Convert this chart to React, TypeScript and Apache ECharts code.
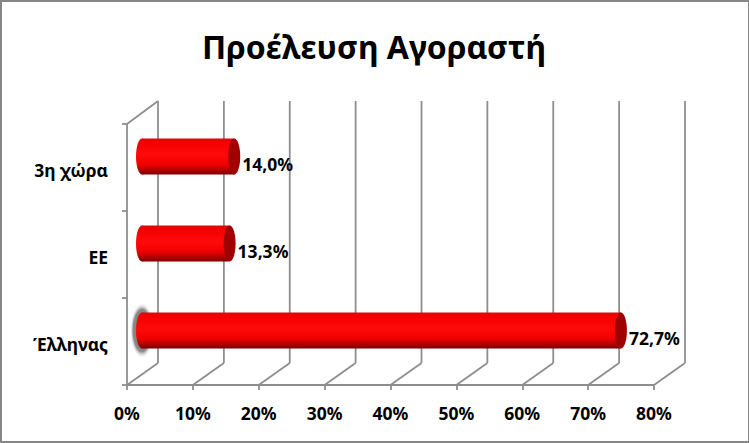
import React, { useEffect, useRef } from "react";
import * as echarts from "echarts";

const categories = ["Έλληνας", "ΕΕ", "3η χώρα"];
const shares = [72.7, 13.3, 14.0];
const gridTicks = [0, 10, 20, 30, 40, 50, 60, 70, 80];
const title = "Προέλευση Αγοραστή";
const FONT = "'Noto Sans', sans-serif";
const LINE = "#8e8e8e";
const DX = 31;
const DY = 22;

function wallItem(params: any, api: any) {
  const v = api.value(0);
  const band = api.size([0, 1])[1];
  const [x, yFirst] = api.coord([v, 0]);
  const [, yLast] = api.coord([v, 2]);
  const yBottom = yFirst + band / 2;
  const yTop = yLast - band / 2;
  const style = { stroke: LINE, lineWidth: 1.8, fill: "none" };
  const children: any[] = [
    { type: "line", shape: { x1: x, y1: yBottom, x2: x + DX, y2: yBottom - DY }, style },
    { type: "line", shape: { x1: x + DX, y1: yBottom - DY, x2: x + DX, y2: yTop - DY - 1 }, style },
  ];
  if (v === 0) {
    children.push({ type: "line", shape: { x1: x, y1: yTop, x2: x + DX, y2: yTop - DY - 1 }, style });
  }
  return { type: "group", children };
}

function barItem(params: any, api: any) {
  const value = api.value(0);
  const cat = api.value(1);
  const [x0, yc0] = api.coord([0, cat]);
  const [x1] = api.coord([value, cat]);
  const ox = 15;
  const oy = 11;
  const h = 36;
  const cy = yc0 - oy;
  const rx = 6;
  const left = x0 + ox;
  const right = x1 + ox;
  const grad = new echarts.graphic.LinearGradient(0, 0, 0, 1, [
    { offset: 0, color: "#dc0a0a" },
    { offset: 0.1, color: "#f20000" },
    { offset: 0.45, color: "#ff0a0a" },
    { offset: 0.72, color: "#ef0000" },
    { offset: 0.9, color: "#a80000" },
    { offset: 1, color: "#7a0000" },
  ]);
  const children: any[] = [];
  if (params.dataIndex === 0) {
    children.push({
      type: "ellipse",
      shape: { cx: left, cy, rx: 12, ry: h / 2 + 10 },
      style: {
        fill: new echarts.graphic.RadialGradient(0.5, 0.5, 0.5, [
          { offset: 0, color: "#707070" },
          { offset: 0.75, color: "#8a8a8a" },
          { offset: 1, color: "rgba(255,255,255,0)" },
        ]),
      },
    });
  }
  children.push(
    { type: "ellipse", shape: { cx: left, cy, rx, ry: h / 2 }, style: { fill: grad } },
    { type: "rect", shape: { x: left, y: cy - h / 2, width: right - left, height: h }, style: { fill: grad } },
    { type: "ellipse", shape: { cx: right, cy, rx, ry: h / 2 }, style: { fill: "#a00000" } },
    {
      type: "text",
      style: {
        x: right + rx + 2,
        y: cy + 7,
        text: value.toFixed(1).replace(".", ",") + "%",
        font: `bold 17.5px ${FONT}`,
        fill: "#000",
        verticalAlign: "middle",
        align: "left",
      },
    }
  );
  return { type: "group", children };
}

export default function App() {
  const ref = useRef<HTMLDivElement>(null);
  useEffect(() => {
    document.body.style.margin = "0";
    const chart = echarts.init(ref.current!, undefined, { renderer: "svg" });
    chart.setOption({
      animation: false,
      title: {
        text: title,
        left: 369,
        top: 25,
        textAlign: "center",
        textStyle: { fontFamily: FONT, fontWeight: "bold", fontSize: 32, color: "#000" },
      },
      grid: { left: 127, top: 124, width: 527, height: 261, containLabel: false },
      xAxis: {
        type: "value",
        min: 0,
        max: 80,
        interval: 10,
        splitLine: { show: false },
        axisLine: { show: true, lineStyle: { color: LINE, width: 1.8 } },
        axisTick: { show: true, length: 5, lineStyle: { color: LINE, width: 1.8 } },
        axisLabel: {
          formatter: "{value}%",
          margin: 19,
          fontFamily: FONT,
          fontWeight: "bold",
          fontSize: 17.5,
          color: "#000",
        },
      },
      yAxis: {
        type: "category",
        data: categories,
        axisLine: { show: true, lineStyle: { color: LINE, width: 1.8 } },
        axisTick: { show: true, length: 5, lineStyle: { color: LINE, width: 1.8 } },
        axisLabel: {
          margin: 19,
          formatter: (name: string) => `{a|${name}}`,
          rich: {
            a: {
              fontFamily: FONT,
              fontWeight: "bold",
              fontSize: 17.5,
              color: "#000",
              padding: [5, 0, 0, 0],
            },
          },
        },
      },
      series: [
        {
          type: "custom",
          coordinateSystem: "cartesian2d",
          clip: false,
          silent: true,
          z: 1,
          data: gridTicks.map((t) => [t]),
          encode: { x: 0 },
          renderItem: wallItem,
        },
        {
          type: "custom",
          coordinateSystem: "cartesian2d",
          clip: false,
          z: 3,
          data: shares.map((v, i) => [v, i]),
          encode: { x: 0, y: 1 },
          renderItem: barItem,
        },
      ],
    });
    return () => chart.dispose();
  }, []);
  return (
    <div style={{ position: "fixed", left: 0, top: 0, width: 749, height: 443, background: "#fff" }}>
      <div ref={ref} style={{ position: "absolute", left: 0, top: 0, width: 749, height: 443 }} />
      <div
        style={{
          position: "absolute",
          left: 0,
          top: 0,
          width: 749,
          height: 443,
          boxSizing: "border-box",
          borderStyle: "solid",
          borderColor: "#868686",
          borderWidth: "2px 1px 2px 2px",
          pointerEvents: "none",
        }}
      />
    </div>
  );
}
